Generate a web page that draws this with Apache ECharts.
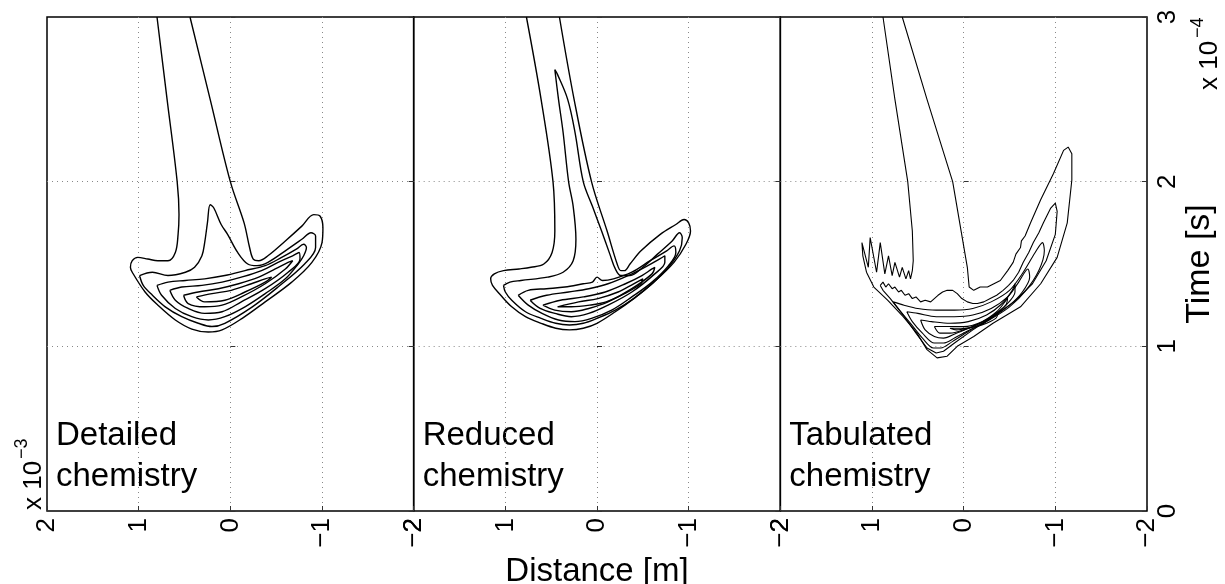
<!DOCTYPE html>
<html><head><meta charset="utf-8">
<script src="https://cdn.jsdelivr.net/npm/echarts@6/dist/echarts.min.js"></script>
<style>html,body{margin:0;padding:0;background:#fff}#c{width:1225px;height:584px}</style>
</head><body><div id="c"></div>
<script>
// ---- data (distance in 1e-3 m, time in 1e-4 s) ----
const distanceTicks = [-2, -1, 0, 1, 2];
const timeTicks = [0, 1, 2, 3];
const panelNames = ['Detailed\nchemistry', 'Reduced\nchemistry', 'Tabulated\nchemistry'];
const xAxisTitle = 'Distance [m]';
const yAxisTitle = 'Time [s]';
const scaleBase = 'x 10';
const xScaleExp = '\u22123';
const yScaleExp = '\u22124';

const detailedA = [[0.80,3.0],[0.69,2.5],[0.58,2.0],[0.56,1.80],[0.57,1.68],[0.60,1.57],[0.68,1.52],[0.79,1.52],[0.90,1.53],[1.01,1.54],[1.07,1.52],[1.09,1.48],[1.07,1.45],[0.93,1.33],[0.79,1.25],[0.60,1.16],[0.42,1.105],[0.24,1.087],[0.09,1.10],[-0.13,1.17],[-0.38,1.27],[-0.67,1.39],[-0.89,1.51],[-1.00,1.63],[-1.01,1.72],[-0.98,1.79],[-0.91,1.80],[-0.78,1.73],[-0.60,1.64],[-0.41,1.55],[-0.31,1.52],[-0.25,1.53],[-0.21,1.60],[-0.15,1.75],[0.0,2.0],[0.22,2.5],[0.44,3.0]];
const detailedB = [[0.99,1.43],[0.85,1.45],[0.68,1.43],[0.49,1.45],[0.39,1.48],[0.31,1.55],[0.28,1.63],[0.25,1.75],[0.22,1.86],[0.18,1.84],[0.10,1.74],[0.03,1.68],[-0.08,1.57],[-0.19,1.50],[-0.29,1.49],[-0.41,1.51],[-0.60,1.58],[-0.78,1.65],[-0.88,1.69],[-0.93,1.67],[-0.93,1.60],[-0.81,1.50],[-0.52,1.36],[-0.24,1.24],[0.06,1.14],[0.20,1.12],[0.35,1.14],[0.53,1.18],[0.71,1.24],[0.85,1.31],[0.95,1.37],[0.99,1.43]];
const detailedC = [[0.80,1.37],[0.68,1.39],[0.49,1.40],[0.28,1.41],[0.06,1.43],[-0.16,1.46],[-0.38,1.49],[-0.56,1.54],[-0.72,1.59],[-0.80,1.62],[-0.83,1.60],[-0.80,1.55],[-0.74,1.50],[-0.60,1.41],[-0.38,1.32],[-0.16,1.24],[0.06,1.18],[0.24,1.16],[0.42,1.18],[0.60,1.23],[0.75,1.31],[0.80,1.37]];
const detailedD = [[0.66,1.34],[0.53,1.36],[0.31,1.37],[0.09,1.39],[-0.12,1.42],[-0.34,1.46],[-0.52,1.51],[-0.68,1.55],[-0.75,1.57],[-0.76,1.53],[-0.63,1.45],[-0.38,1.35],[-0.12,1.27],[0.09,1.21],[0.28,1.20],[0.46,1.23],[0.60,1.28],[0.66,1.34]];
const detailedE = [[0.51,1.31],[0.35,1.33],[0.13,1.35],[-0.09,1.38],[-0.31,1.42],[-0.49,1.47],[-0.63,1.51],[-0.68,1.52],[-0.60,1.47],[-0.38,1.38],[-0.12,1.30],[0.09,1.25],[0.28,1.24],[0.46,1.26],[0.51,1.31]];
const detailedF = [[0.37,1.30],[0.20,1.32],[-0.01,1.34],[-0.23,1.38],[-0.38,1.41],[-0.45,1.42],[-0.38,1.39],[-0.16,1.33],[0.06,1.28],[0.28,1.27],[0.37,1.30]];

const reducedA = [[0.77,3.0],[0.61,2.5],[0.48,2.0],[0.46,1.70],[0.49,1.57],[0.58,1.50],[0.72,1.48],[0.85,1.47],[1.02,1.46],[1.12,1.44],[1.16,1.41],[1.14,1.37],[1.05,1.31],[0.93,1.24],[0.78,1.18],[0.61,1.14],[0.45,1.11],[0.30,1.10],[0.15,1.11],[0.0,1.14],[-0.20,1.21],[-0.40,1.29],[-0.62,1.39],[-0.84,1.51],[-0.97,1.62],[-1.02,1.70],[-1.00,1.75],[-0.95,1.77],[-0.86,1.74],[-0.69,1.68],[-0.48,1.58],[-0.36,1.50],[-0.30,1.46],[-0.26,1.46],[-0.22,1.50],[-0.11,1.70],[0.06,2.0],[0.25,2.5],[0.41,3.0]];
const reducedB = [[1.02,1.37],[0.95,1.39],[0.83,1.40],[0.54,1.42],[0.37,1.45],[0.26,1.52],[0.23,1.65],[0.26,1.85],[0.31,2.0],[0.37,2.3],[0.42,2.5],[0.46,2.68],[0.43,2.65],[0.32,2.5],[0.24,2.3],[0.15,2.0],[0.05,1.85],[-0.05,1.70],[-0.14,1.56],[-0.20,1.47],[-0.26,1.43],[-0.36,1.43],[-0.50,1.48],[-0.66,1.56],[-0.82,1.64],[-0.90,1.69],[-0.93,1.66],[-0.90,1.58],[-0.78,1.48],[-0.60,1.38],[-0.40,1.29],[-0.20,1.22],[0.0,1.17],[0.15,1.14],[0.30,1.13],[0.45,1.14],[0.61,1.17],[0.78,1.21],[0.93,1.28],[1.00,1.33],[1.02,1.37]];
const reducedC = [[0.86,1.31],[0.75,1.34],[0.55,1.35],[0.35,1.36],[0.15,1.38],[0.05,1.39],[0.0,1.42],[-0.06,1.40],[-0.18,1.41],[-0.38,1.45],[-0.58,1.52],[-0.76,1.58],[-0.84,1.61],[-0.86,1.57],[-0.78,1.49],[-0.60,1.39],[-0.38,1.30],[-0.16,1.22],[0.06,1.17],[0.24,1.15],[0.42,1.16],[0.60,1.20],[0.75,1.25],[0.86,1.31]];
const reducedD = [[0.73,1.28],[0.55,1.31],[0.31,1.33],[0.09,1.35],[-0.12,1.38],[-0.34,1.43],[-0.52,1.48],[-0.68,1.53],[-0.74,1.55],[-0.74,1.51],[-0.63,1.44],[-0.38,1.33],[-0.12,1.25],[0.09,1.20],[0.28,1.18],[0.46,1.20],[0.62,1.23],[0.73,1.28]];
const reducedE = [[0.59,1.25],[0.40,1.28],[0.15,1.30],[-0.09,1.33],[-0.31,1.38],[-0.49,1.43],[-0.60,1.47],[-0.63,1.48],[-0.60,1.44],[-0.38,1.35],[-0.12,1.27],[0.09,1.23],[0.28,1.21],[0.46,1.22],[0.59,1.25]];
const reducedF = [[0.43,1.24],[0.20,1.27],[-0.01,1.29],[-0.23,1.33],[-0.40,1.38],[-0.50,1.41],[-0.48,1.38],[-0.30,1.32],[-0.10,1.27],[0.08,1.25],[0.28,1.24],[0.43,1.24]];

const tabulatedA = [[0.88,3.0],[0.75,2.5],[0.61,2.0],[0.56,1.70],[0.55,1.52],[0.56,1.46],[0.58,1.41],[0.60,1.46],[0.63,1.41],[0.67,1.48],[0.70,1.42],[0.75,1.51],[0.78,1.43],[0.82,1.55],[0.86,1.44],[0.91,1.63],[0.95,1.45],[1.02,1.66],[1.04,1.48],[1.11,1.63],[1.10,1.55],[1.06,1.45],[0.98,1.36],[0.83,1.28],[0.66,1.18],[0.51,1.08],[0.40,0.98],[0.29,0.93],[0.18,0.94],[0.07,1.00],[-0.11,1.06],[-0.32,1.14],[-0.62,1.24],[-0.84,1.38],[-1.02,1.54],[-1.13,1.75],[-1.18,2.01],[-1.18,2.17],[-1.14,2.21],[-1.09,2.19],[-0.98,2.05],[-0.84,1.89],[-0.73,1.75],[-0.67,1.67],[-0.63,1.64],[-0.62,1.60],[-0.57,1.56],[-0.54,1.51],[-0.48,1.46],[-0.40,1.40],[-0.33,1.38],[-0.26,1.36],[-0.18,1.36],[-0.11,1.34],[-0.06,1.36],[-0.04,1.48],[0.12,2.0],[0.40,2.5],[0.67,3.0]];
const tabulatedB = [[0.91,1.37],[0.88,1.39],[0.85,1.36],[0.82,1.38],[0.78,1.35],[0.75,1.36],[0.71,1.33],[0.68,1.34],[0.64,1.31],[0.60,1.32],[0.56,1.29],[0.52,1.30],[0.47,1.27],[0.42,1.28],[0.36,1.27],[0.32,1.29],[0.28,1.31],[0.23,1.33],[0.18,1.34],[0.12,1.34],[0.07,1.32],[0.02,1.29],[-0.04,1.27],[-0.10,1.26],[-0.15,1.26],[-0.22,1.27],[-0.29,1.29],[-0.36,1.31],[-0.43,1.34],[-0.49,1.37],[-0.54,1.40],[-0.60,1.45],[-0.65,1.51],[-0.71,1.57],[-0.76,1.63],[-0.82,1.69],[-0.87,1.75],[-0.95,1.84],[-1.00,1.87],[-1.02,1.82],[-1.00,1.68],[-0.90,1.52],[-0.75,1.38],[-0.55,1.27],[-0.32,1.18],[-0.10,1.10],[0.10,1.02],[0.22,0.97],[0.30,0.96],[0.40,0.99],[0.52,1.08],[0.66,1.19],[0.80,1.29],[0.88,1.34],[0.91,1.37]];
const tabulatedC = [[0.77,1.27],[0.65,1.25],[0.50,1.23],[0.30,1.22],[0.10,1.22],[-0.10,1.23],[-0.30,1.27],[-0.50,1.34],[-0.65,1.45],[-0.78,1.57],[-0.86,1.63],[-0.88,1.58],[-0.82,1.46],[-0.68,1.34],[-0.50,1.24],[-0.28,1.16],[-0.05,1.09],[0.12,1.03],[0.25,0.99],[0.33,0.99],[0.45,1.05],[0.58,1.14],[0.70,1.22],[0.77,1.27]];
const tabulatedD = [[0.62,1.21],[0.50,1.20],[0.30,1.18],[0.10,1.18],[-0.10,1.19],[-0.30,1.23],[-0.48,1.30],[-0.60,1.39],[-0.70,1.47],[-0.72,1.42],[-0.64,1.33],[-0.50,1.25],[-0.30,1.17],[-0.10,1.11],[0.10,1.05],[0.22,1.02],[0.32,1.02],[0.45,1.08],[0.56,1.15],[0.62,1.21]];
const tabulatedE = [[0.47,1.16],[0.35,1.15],[0.15,1.14],[-0.05,1.15],[-0.25,1.19],[-0.42,1.26],[-0.53,1.34],[-0.56,1.38],[-0.56,1.33],[-0.46,1.25],[-0.30,1.18],[-0.10,1.12],[0.08,1.08],[0.22,1.05],[0.32,1.06],[0.42,1.10],[0.47,1.16]];
const tabulatedF = [[0.32,1.12],[0.20,1.12],[0.0,1.12],[-0.20,1.15],[-0.36,1.21],[-0.45,1.27],[-0.48,1.30],[-0.46,1.25],[-0.34,1.19],[-0.18,1.14],[0.0,1.10],[0.15,1.08],[0.26,1.08],[0.32,1.12]];
const tabulatedG = [[0.15,1.11],[0.0,1.11],[-0.18,1.13],[-0.32,1.18],[-0.38,1.21],[-0.35,1.17],[-0.20,1.13],[-0.05,1.11],[0.08,1.10],[0.15,1.11]];

// ---- layout / style ----
const FONT = '"Liberation Sans", Arial, Helvetica, sans-serif';
const GL = [47, 413.67, 780.33], GW = 366.67, GT = 17, GH = 494;
const panels = [
  { contours: [detailedA, detailedB, detailedC, detailedD, detailedE, detailedF], smooth: [0.35,0.35,0.35,0.35,0.35,0.35], width: 1.4 },
  { contours: [reducedA, reducedB, reducedC, reducedD, reducedE, reducedF], smooth: [0.35,0.35,0.35,0.35,0.35,0.35], width: 1.4 },
  { contours: [tabulatedA, tabulatedB, tabulatedC, tabulatedD, tabulatedE, tabulatedF, tabulatedG], smooth: [0,0,0.3,0.3,0.3,0.3,0.3], width: 1.1 }
];
const fmt = v => (v < 0 ? '\u2212' + Math.abs(v) : String(v));
const gridLine = { show: true, showMinLine: false, showMaxLine: false, lineStyle: { color: '#888', width: 1, type: [1, 4] } };

const grid = [], xAxis = [], yAxis = [], series = [];
panels.forEach((p, i) => {
  grid.push({ left: GL[i], top: GT, width: GW, height: GH, show: true, borderColor: '#000', borderWidth: 1.5,
    backgroundColor: 'transparent', containLabel: false, outerBoundsMode: 'none' });
  xAxis.push({ gridIndex: i, type: 'value', min: distanceTicks[0], max: distanceTicks[distanceTicks.length - 1], interval: 1, inverse: true,
    axisLine: { show: false }, axisTick: { show: true, inside: true, length: 5, lineStyle: { color: '#333' } },
    splitLine: gridLine,
    axisLabel: { show: true, rotate: 90, margin: 7, fontSize: 26, color: '#000', fontFamily: FONT, formatter: fmt, showMinLabel: true, showMaxLabel: true },
    name: i === 1 ? xAxisTitle : '', nameLocation: 'middle', nameGap: 33,
    nameTextStyle: { fontSize: 33, color: '#000', fontFamily: FONT } });
  yAxis.push({ gridIndex: i, type: 'value', min: timeTicks[0], max: timeTicks[timeTicks.length - 1], interval: 1, position: 'left',
    axisLine: { show: false }, axisTick: { show: true, inside: true, length: 5, lineStyle: { color: '#333' } },
    splitLine: gridLine, axisLabel: { show: false } });
  const last = i === 2;
  yAxis.push({ gridIndex: i, type: 'value', min: timeTicks[0], max: timeTicks[timeTicks.length - 1], interval: 1, position: 'right',
    axisLine: { show: false }, axisTick: { show: true, inside: true, length: 5, lineStyle: { color: '#333' } },
    splitLine: { show: false },
    axisLabel: { show: last, rotate: 90, margin: 8, fontSize: 26, color: '#000', fontFamily: FONT, formatter: fmt, showMinLabel: true, showMaxLabel: true },
    name: last ? yAxisTitle : '', nameLocation: 'middle', nameRotate: 90, nameGap: 36,
    nameTextStyle: { fontSize: 34, color: '#000', fontFamily: FONT } });
  p.contours.forEach((c, k) => {
    series.push({ type: 'line', xAxisIndex: i, yAxisIndex: i * 2, data: c, showSymbol: false, symbol: 'none',
      smooth: p.smooth[k], silent: true, animation: false, z: 3,
      lineStyle: { color: '#000', width: p.width } });
  });
});

const graphic = [];
panelNames.forEach((t, i) => {
  graphic.push({ type: 'text', x: GL[i] + 9, y: 415, silent: true,
    style: { text: t, fontSize: 33, fontFamily: FONT, fill: '#000', lineHeight: 41, align: 'left', verticalAlign: 'top' } });
});
graphic.push({ type: 'text', x: 34, y: 510, rotation: Math.PI / 2, silent: true,
  style: { text: scaleBase, fontSize: 26, fontFamily: FONT, fill: '#000', align: 'left', verticalAlign: 'middle' } });
graphic.push({ type: 'text', x: 22, y: 459, rotation: Math.PI / 2, silent: true,
  style: { text: xScaleExp, fontSize: 18, fontFamily: FONT, fill: '#000', align: 'left', verticalAlign: 'middle' } });
graphic.push({ type: 'text', x: 1210, y: 90, rotation: Math.PI / 2, silent: true,
  style: { text: scaleBase, fontSize: 26, fontFamily: FONT, fill: '#000', align: 'left', verticalAlign: 'middle' } });
graphic.push({ type: 'text', x: 1198, y: 38, rotation: Math.PI / 2, silent: true,
  style: { text: yScaleExp, fontSize: 18, fontFamily: FONT, fill: '#000', align: 'left', verticalAlign: 'middle' } });

const chart = echarts.init(document.getElementById('c'), null, { renderer: 'canvas' });
chart.setOption({ animation: false, backgroundColor: '#fff', grid, xAxis, yAxis, series, graphic });
</script></body></html>
